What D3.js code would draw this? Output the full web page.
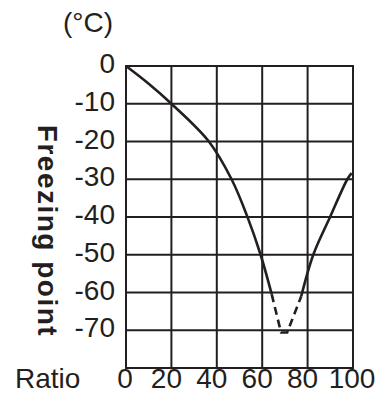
<!DOCTYPE html>
<html>
<head>
<meta charset="utf-8">
<script src="https://cdn.jsdelivr.net/npm/d3@7"></script>
<style>
body { margin: 0; background: #fff; }
text { font-family: "Liberation Sans", Arial, sans-serif; fill: #231f20; }
</style>
</head>
<body>
<div id="wrapper"></div>
<script>
// values
var xTicks = [0, 20, 40, 60, 80, 100];
var yTicks = [0, -10, -20, -30, -40, -50, -60, -70];
var leftRatio = [0, 10, 20, 36.5, 46.5, 53.2, 59.3, 64.2];
var leftTemp = [0, -4.7, -10, -20, -30, -39.5, -50, -60.5];
var dashRatio = [64.2, 68.3, 71, 77.2];
var dashTemp = [-60.5, -70.6, -70.6, -61];
var rightRatio = [77.2, 82.5, 89.9, 97.5, 99.4];
var rightTemp = [-61, -50, -40, -30, -28.4];

var width = 385, height = 403;
var margin = {top: 66, right: 32, bottom: 35, left: 126};

var svg = d3.select("#wrapper").append("svg")
    .attr("width", width)
    .attr("height", height);

var x = d3.scaleLinear().domain([0, 100]).range([margin.left, width - margin.right]);
var y = d3.scaleLinear().domain([0, -80]).range([margin.top, height - margin.bottom]);

var ink = "#231f20";

// grid
svg.selectAll(".hgrid")
    .data(yTicks.concat([-80]))
    .enter().append("line")
    .attr("x1", x(0) - 1).attr("x2", x(100) + 1)
    .attr("y1", d => y(d)).attr("y2", d => y(d))
    .attr("stroke", ink).attr("stroke-width", 2);

svg.selectAll(".vgrid")
    .data(xTicks)
    .enter().append("line")
    .attr("y1", y(0)).attr("y2", y(-80))
    .attr("x1", d => x(d)).attr("x2", d => x(d))
    .attr("stroke", ink).attr("stroke-width", 2);

// tick labels
svg.selectAll(".ylab")
    .data(yTicks)
    .enter().append("text")
    .attr("x", x(0) - 11)
    .attr("y", d => y(d) - 3)
    .attr("dy", "0.36em")
    .attr("text-anchor", "end")
    .attr("font-size", 28)
    .text(d => d);

svg.selectAll(".xlab")
    .data(xTicks)
    .enter().append("text")
    .attr("x", d => x(d) - (String(d).length == 2 ? 5 : 1))
    .attr("y", 388)
    .attr("text-anchor", "middle")
    .attr("font-size", 28)
    .text(d => d);

svg.append("text")
    .attr("x", 15).attr("y", 388)
    .attr("font-size", 28)
    .text("Ratio");

svg.append("text")
    .attr("x", 88).attr("y", 32)
    .attr("text-anchor", "middle")
    .attr("font-size", 28)
    .text("(°C)");

svg.append("text")
    .attr("transform", "translate(38,231) rotate(90)")
    .attr("text-anchor", "middle")
    .attr("font-size", 28)
    .attr("font-weight", "bold")
    .attr("letter-spacing", 1.5)
    .text("Freezing point");

// curve
var line = d3.line()
    .x(d => x(d[0]))
    .y(d => y(d[1]))
    .curve(d3.curveCatmullRom);

svg.append("path")
    .attr("d", line(d3.zip(leftRatio, leftTemp)))
    .attr("fill", "none").attr("stroke", ink).attr("stroke-width", 2.6);

svg.append("path")
    .attr("d", d3.line().x(d => x(d[0])).y(d => y(d[1]))(d3.zip(dashRatio, dashTemp)))
    .attr("fill", "none").attr("stroke", ink).attr("stroke-width", 2.6)
    .attr("stroke-dasharray", "8,5");

svg.append("path")
    .attr("d", line(d3.zip(rightRatio, rightTemp)))
    .attr("fill", "none").attr("stroke", ink).attr("stroke-width", 2.6);
</script>
</body>
</html>
